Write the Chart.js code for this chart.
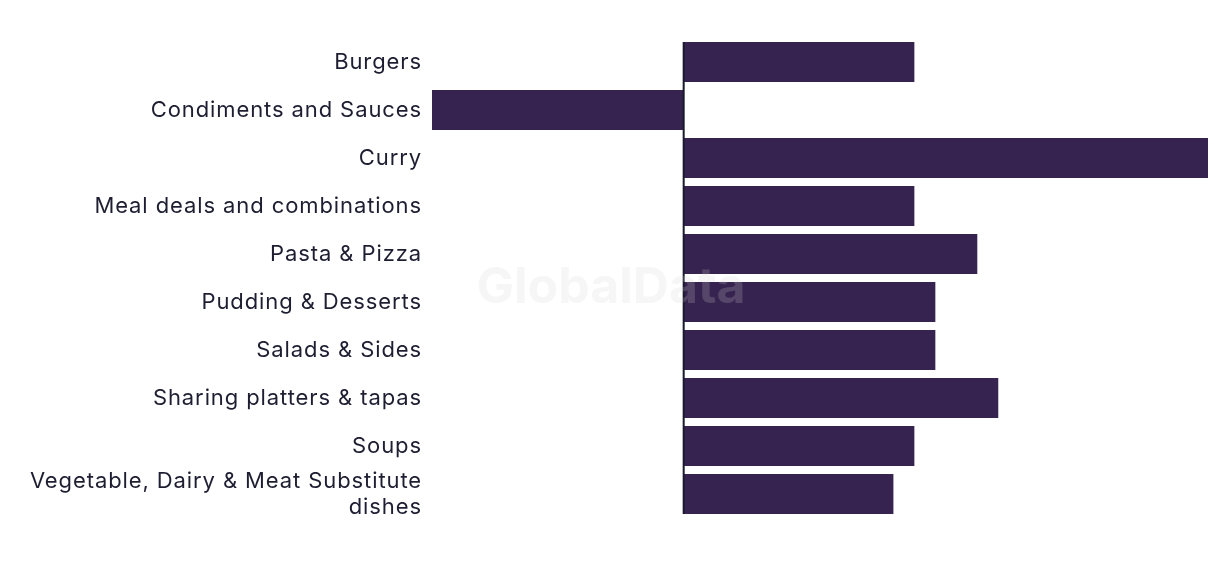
<!DOCTYPE html>
<html>
<head>
<meta charset="utf-8">
<script src="https://cdn.jsdelivr.net/npm/chart.js@4"></script>
<style>
  html, body { margin: 0; padding: 0; background: #fff; }
  #wrap { width: 1220px; height: 574px; position: relative; }
</style>
</head>
<body>
<div id="wrap"><canvas id="chart"></canvas></div>
<script>
// categories and values
const categories = [
    'Burgers',
    'Condiments and Sauces',
    'Curry',
    'Meal deals and combinations',
    'Pasta & Pizza',
    'Pudding & Desserts',
    'Salads & Sides',
    'Sharing platters & tapas',
    'Soups',
    ['Vegetable, Dairy & Meat Substitute', 'dishes']
];
const values = [1.1, -1.2, 2.5, 1.1, 1.4, 1.2, 1.2, 1.5, 1.1, 1.0];

const barColor = '#37234f';
const textColor = '#1e1e32';

// wider letter spacing for the axis labels
const spacing = {
    id: 'spacing',
    beforeDraw(chart) { chart.ctx.letterSpacing = '0.9px'; },
    afterDraw(chart) { chart.ctx.letterSpacing = '0px'; }
};

// zero line + watermark
const extras = {
    id: 'extras',
    afterDatasetsDraw(chart) {
        const ctx = chart.ctx;
        const x = chart.scales.x.getPixelForValue(0);
        const meta = chart.getDatasetMeta(0);
        const first = meta.data[0];
        const last = meta.data[meta.data.length - 1];
        ctx.save();
        ctx.strokeStyle = '#1a1a2e';
        ctx.lineWidth = 2;
        ctx.beginPath();
        ctx.moveTo(x, first.y - first.height / 2);
        ctx.lineTo(x, last.y + last.height / 2);
        ctx.stroke();

        // watermark
        ctx.letterSpacing = '0px';
        ctx.font = 'bold 50px Inter, sans-serif';
        ctx.fillStyle = 'rgba(210,210,210,0.2)';
        ctx.textAlign = 'center';
        ctx.textBaseline = 'middle';
        ctx.fillText('GlobalData', 611, 288);
        ctx.restore();
    }
};

new Chart(document.getElementById('chart'), {
    type: 'bar',
    data: {
        labels: categories,
        datasets: [{
            data: values,
            backgroundColor: barColor,
            borderWidth: 0,
            categoryPercentage: 1,
            barPercentage: 0.8333
        }]
    },
    options: {
        indexAxis: 'y',
        responsive: true,
        maintainAspectRatio: false,
        animation: false,
        layout: { padding: { left: 0, right: 12, top: 38, bottom: 56 } },
        plugins: {
            legend: { display: false },
            tooltip: { enabled: false }
        },
        scales: {
            x: {
                display: false,
                min: -1.2,
                max: 2.5
            },
            y: {
                grid: { display: false, drawTicks: false },
                border: { display: false },
                ticks: {
                    color: textColor,
                    padding: 10,
                    autoSkip: false,
                    font: { family: 'Inter, sans-serif', size: 22, lineHeight: 1.18 }
                },
                afterFit(scale) { scale.width = 432; }
            }
        }
    },
    plugins: [spacing, extras]
});
</script>
</body>
</html>
